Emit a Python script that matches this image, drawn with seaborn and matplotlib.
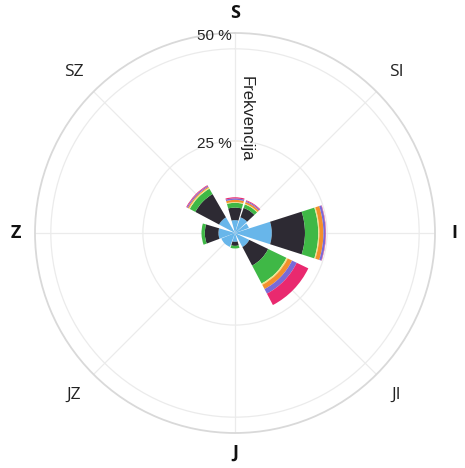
import numpy as np
import matplotlib
matplotlib.use("Agg")
import matplotlib.pyplot as plt
import seaborn as sns

# sector directions (degrees, clockwise from north)
sector_deg = [0, 33, 60, 90, 134, 180, 224, 268, 314]

# frequency (%) of each speed class per sector, stacked outward
class_blue = [3.5, 4.5, 4.0, 10.0, 4.3, 2.4, 4.0, 4.5, 4.9]
class_dark = [3.4, 2.7, 0.0, 9.0, 5.7, 1.1, 0.0, 3.7, 7.3]
class_green = [1.3, 1.0, 0.0, 3.6, 5.5, 0.7, 0.0, 0.9, 1.7]
class_yellow = [0.2, 0.2, 0.0, 0.3, 0.4, 0.0, 0.0, 0.0, 0.3]
class_orange = [0.6, 0.5, 0.0, 1.1, 1.3, 0.0, 0.0, 0.0, 0.3]
class_purple = [0.4, 0.3, 0.0, 0.6, 1.4, 0.0, 0.0, 0.0, 0.3]
class_pink = [0.3, 0.2, 0.0, 0.1, 3.5, 0.0, 0.0, 0.0, 0.2]

dir_labels = ["S", "SI", "I", "JI", "J", "JZ", "Z", "SZ"]
r_ticks = [25, 50]
r_tick_labels = ["25 %", "50 %"]
r_title = "Frekvencija"

sns.set_theme(style="white")
plt.rcParams["font.family"] = ["Liberation Sans", "DejaVu Sans"]

layers = [class_blue, class_dark, class_green, class_yellow,
          class_orange, class_purple, class_pink]
colors = ["#68b6ea", "#2d2a33", "#3fb846", "#efe58a",
          "#f3902c", "#7a6ad6", "#e9296f"]
# angular span drawn for each sector (deg)
spans = [31, 28, 20, 35.5, 36.5, 34, 48, 37, 32]

fig = plt.figure(figsize=(4.65, 4.68), dpi=100)
ax = fig.add_axes([35 / 465, 35 / 468, 400 / 465, 400 / 468], projection="polar")
ax.set_theta_zero_location("N")
ax.set_theta_direction(-1)

theta = np.deg2rad(sector_deg)
widths = np.deg2rad(spans)
bottom = np.zeros(len(sector_deg))
for vals, col in zip(layers, colors):
    vals = np.array(vals)
    ax.bar(theta, vals, width=widths, bottom=bottom, color=col,
           linewidth=0, zorder=3)
    bottom += vals

ax.set_rlim(0, 54.3)
ax.set_rticks(r_ticks)
ax.set_yticklabels([])
ax.set_xticks(np.deg2rad(np.arange(0, 360, 45)))
ax.set_xticklabels([])
ax.set_axisbelow(True)
ax.grid(True, color="#ebebeb", linewidth=0.9)
ax.spines["polar"].set_color("#d9d9d9")
ax.spines["polar"].set_linewidth(1.3)

# radial tick labels and title along the north axis
offsets = [(-2, -2), (-2, 9)]
for r, lab, off in zip(r_ticks, r_tick_labels, offsets):
    ax.annotate(lab, xy=(0, r), xytext=off, textcoords="offset points",
                ha="right", va="center", fontsize=11, color="#222222")
ax.annotate(r_title, xy=(0, 31.1), xytext=(8.3, 0), textcoords="offset points",
            rotation=270, ha="center", va="center", fontsize=12, color="#222222")

# compass labels
for i, lab in enumerate(dir_labels):
    ang = np.deg2rad(i * 45)
    if i % 2 == 0:
        ax.text(ang, 59.6, lab, ha="center", va="center", fontsize=13,
                fontweight="bold", family=["Open Sans", "DejaVu Sans"], color="#111111")
    else:
        ax.text(ang, 62.0, lab, ha="center", va="center", fontsize=12.5,
                family=["Open Sans", "DejaVu Sans"], color="#222222")

fig.savefig("out.png", dpi=100, facecolor="white")
